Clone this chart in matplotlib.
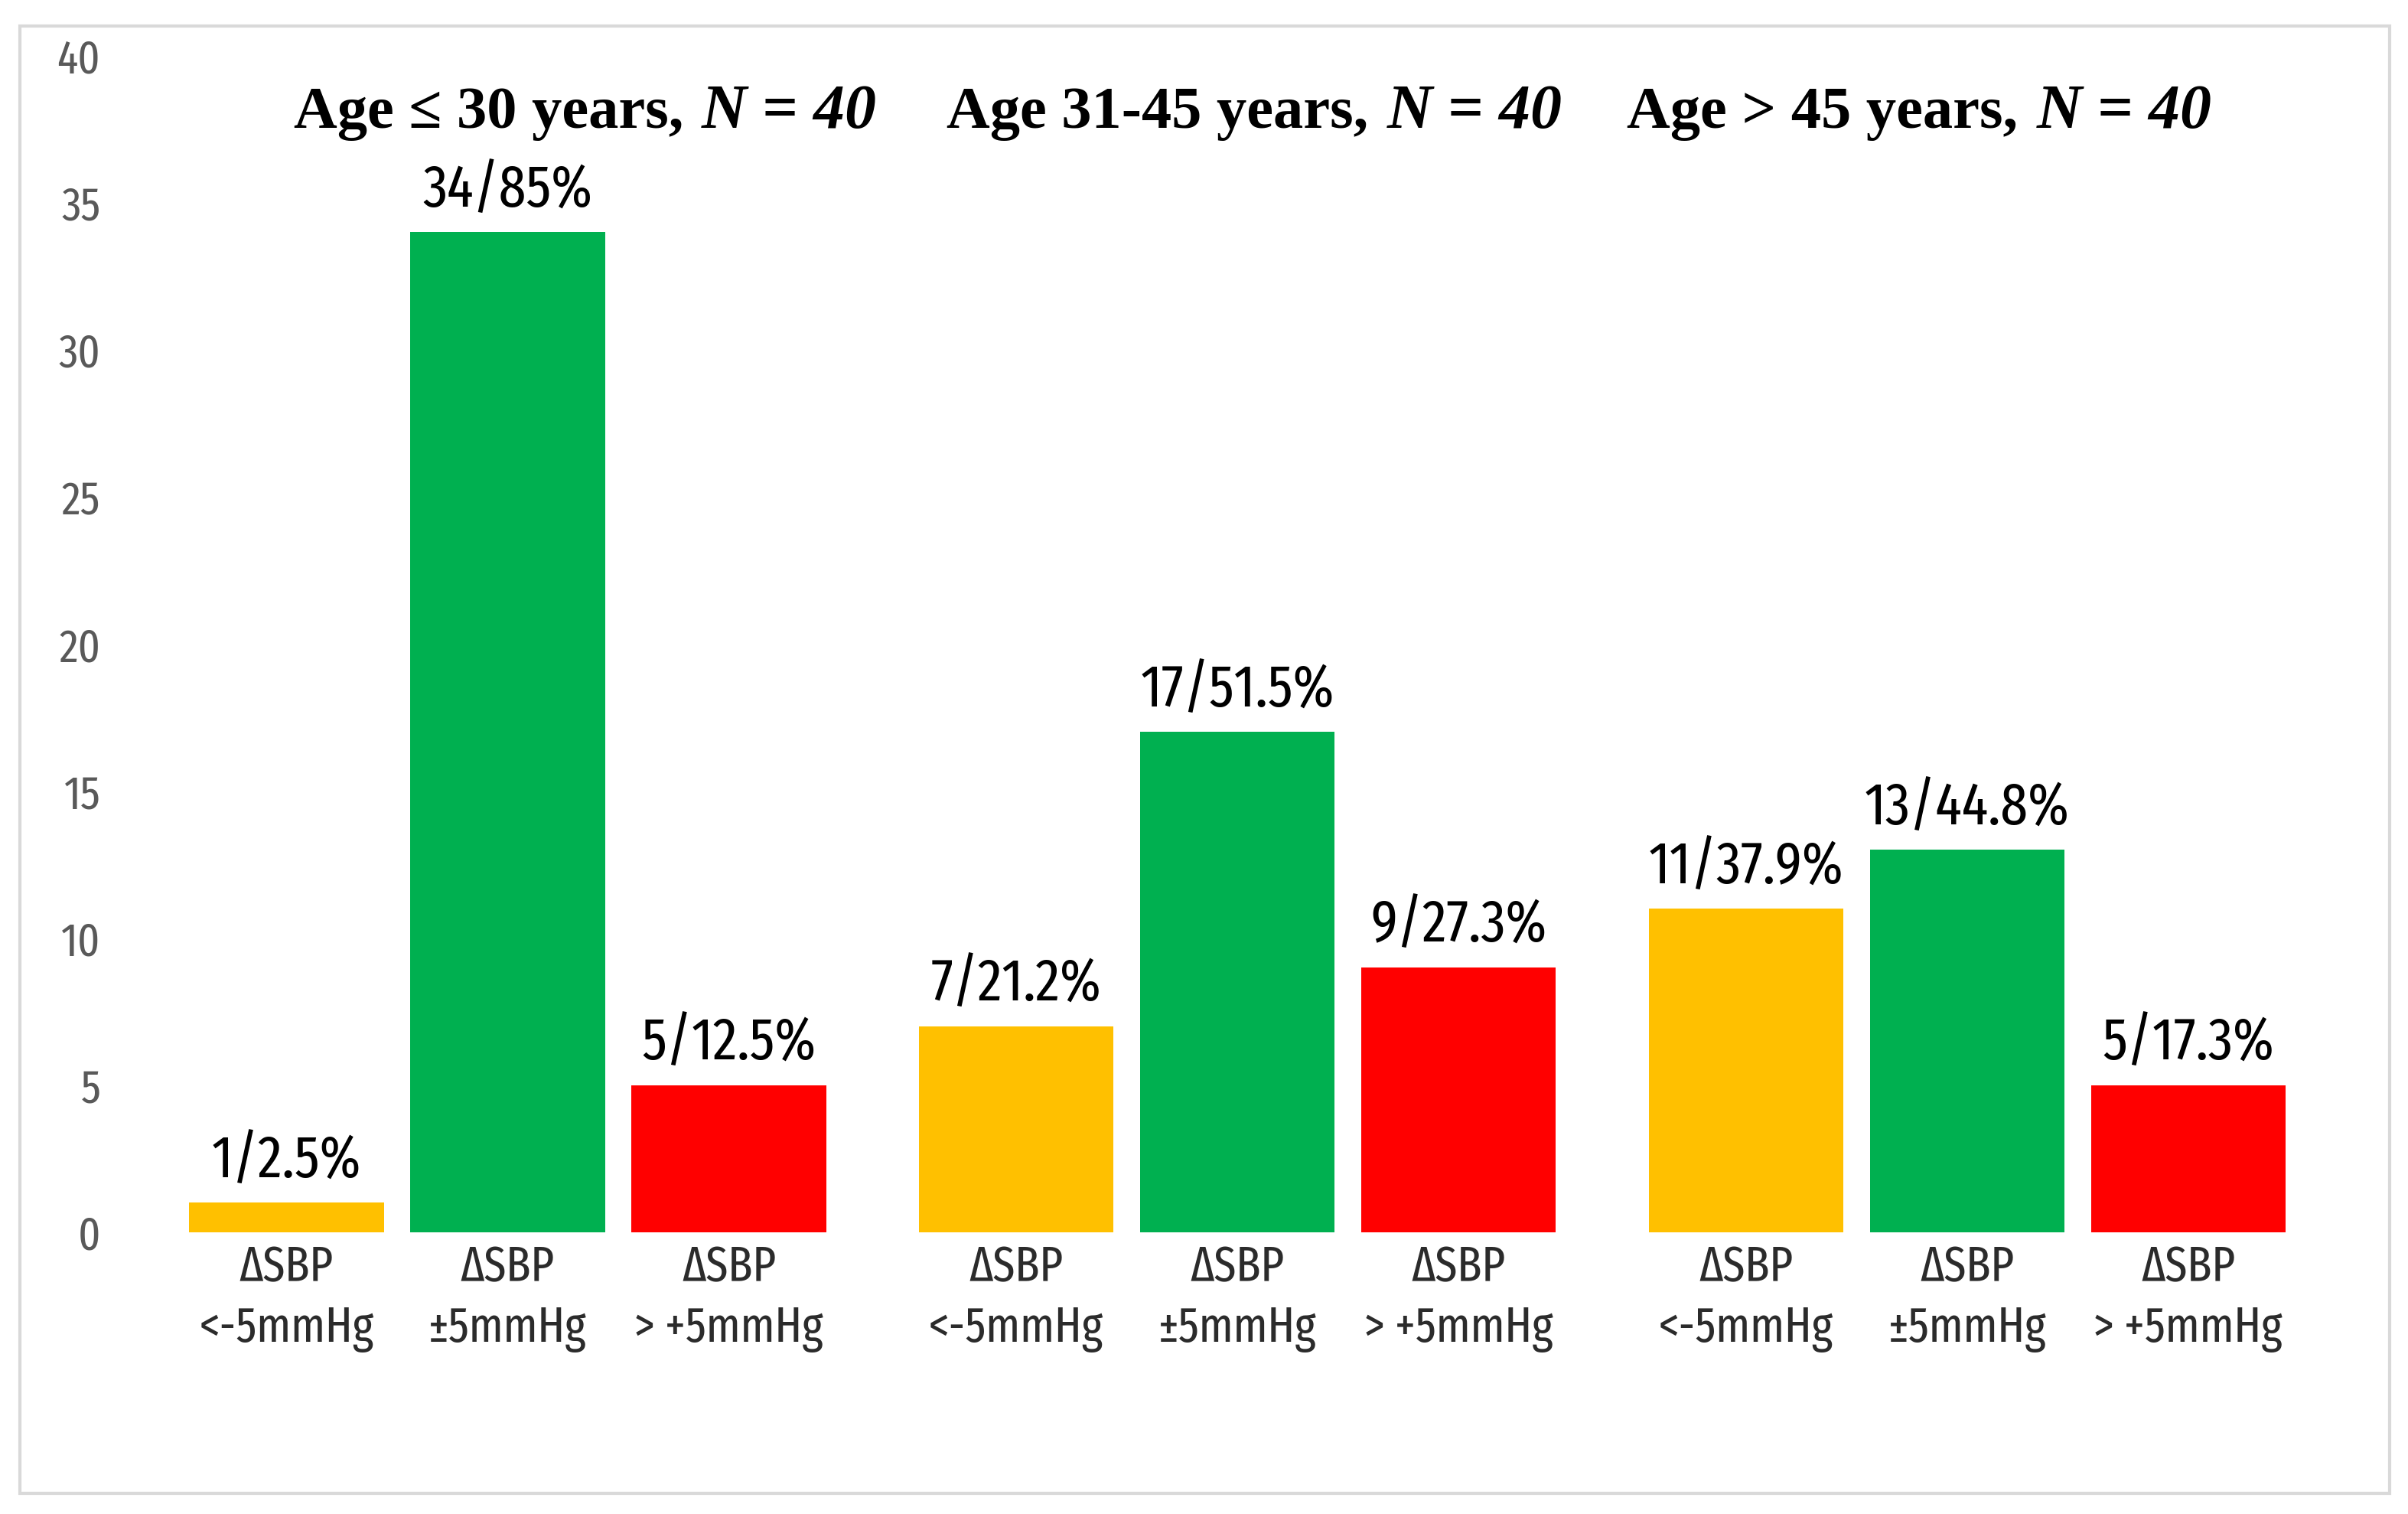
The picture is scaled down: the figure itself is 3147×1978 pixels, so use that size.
import matplotlib
matplotlib.use("Agg")
import matplotlib.pyplot as plt
from matplotlib.patches import Rectangle

age_groups = ["Age ≤ 30 years,", "Age 31-45 years,", "Age > 45 years,"]
group_n = [40, 40, 40]
categories = ["ΔSBP\n<-5mmHg", "ΔSBP\n±5mmHg", "ΔSBP\n> +5mmHg"]

below = [1, 7, 11]
within = [34, 17, 13]
above = [5, 9, 5]

below_pct = ["2.5%", "21.2%", "37.9%"]
within_pct = ["85%", "51.5%", "44.8%"]
above_pct = ["12.5%", "27.3%", "17.3%"]

yticks = [0, 5, 10, 15, 20, 25, 30, 35, 40]

colors = ["#FFC000", "#00B050", "#FF0000"]
narrow = ["Fira Sans Extra Condensed", "Fira Sans Condensed", "DejaVu Sans"]

fig = plt.figure(figsize=(31.47, 19.78), dpi=100)
W, H = 1568, 985.5  # layout measured on a half-size view
ax = fig.add_axes([100 / W, 1 - 802 / H, 1420 / W, (802 - 36) / H])

group_step = 3.3
width = 0.88
series = [below, within, above]
pcts = [below_pct, within_pct, above_pct]

xpos, xlabels = [], []
for g in range(len(age_groups)):
    for j in range(3):
        x = g * group_step + j
        val = series[j][g]
        ax.bar(x, val, width=width, color=colors[j])
        ax.annotate(f"{val}/{pcts[j][g]}", (x, val), xytext=(0, 24),
                    textcoords="offset points", ha="center", va="baseline",
                    fontsize=56, family=narrow, color="black")
        xpos.append(x)
        xlabels.append(categories[j])

ax.set_xlim(-0.601, 9.26)
ax.set_ylim(0, 40)
ax.set_yticks(yticks)
ax.set_xticks(xpos)
ax.set_xticklabels(xlabels, fontsize=46, family=narrow, color="#2b2b2b",
                   linespacing=1.32)
for lab in ax.get_yticklabels():
    lab.set_fontsize(44)
    lab.set_family(narrow)
    lab.set_color("#595959")
ax.tick_params(axis="y", length=0, pad=50)
ax.tick_params(axis="x", length=0, pad=12)
for s in ax.spines.values():
    s.set_visible(False)

# title pieces: upright part ends before the italic "N = 40"
italic_x = [457, 903, 1326]
for g, name in enumerate(age_groups):
    fig.text((italic_x[g] - 12) / W, 1 - 83 / H, name,
             ha="right", va="baseline", fontsize=56.5,
             family="Liberation Serif", fontweight="bold")
    fig.text(italic_x[g] / W, 1 - 83 / H, f"N = {group_n[g]}",
             ha="left", va="baseline", fontsize=59,
             family="Liberation Serif", fontweight="bold", fontstyle="italic")

fig.patches.append(Rectangle((13 / W, 1 - 972 / H), 1543 / W, 955 / H,
                             transform=fig.transFigure, fill=False,
                             edgecolor="#d9d9d9", linewidth=3))

fig.savefig("out.png", dpi=100)
